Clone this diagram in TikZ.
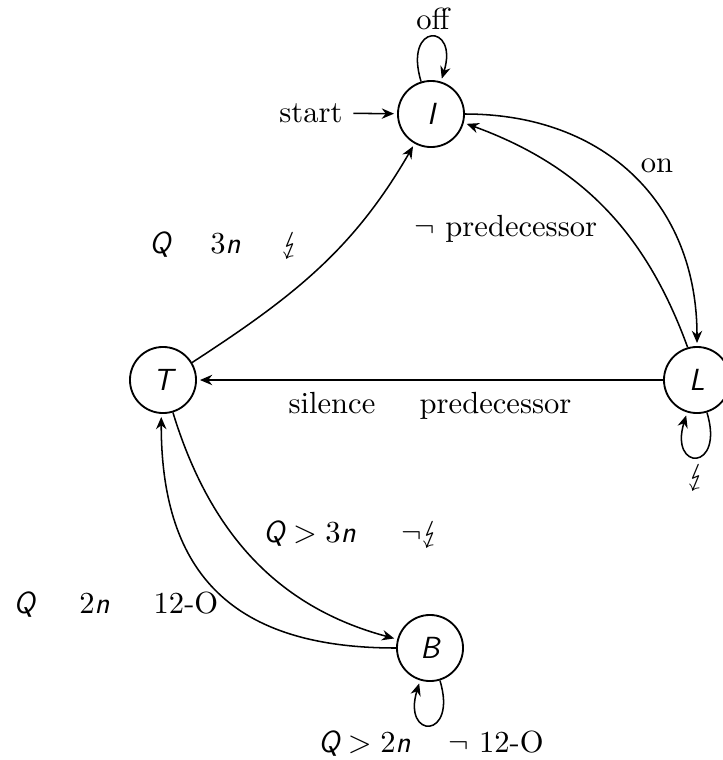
\documentclass[tikz,border=0pt]{standalone}
\usepackage{stmaryrd}
\usetikzlibrary{arrows.meta}
\font\lsansit="[lmsans17-oblique.otf]" at 10pt
\newcommand\sv[1]{{\lsansit #1}}
\begin{document}
\begin{tikzpicture}[x=0.327pt,y=-0.327pt,
  st/.style={circle,draw,line width=0.6pt,minimum size=21.6pt,inner sep=0pt,font=\lsansit},
  edge/.style={-{Stealth[length=4pt,width=3.4pt,inset=1.3pt]},line width=0.5pt,shorten >=1pt},
  lbl/.style={inner sep=0pt,anchor=base}]
\useasboundingbox (0,0) rectangle (723,760);
\node[st] (I) at (431,114) {I};
\node[st] (T) at (163,380) {T};
\node[st] (L) at (697,380) {L};
\node[st] (B) at (430,648) {B};
\node (start) at (311,113) {start};
% labels
\node[lbl] (loff) at (433,29) {off};
\node[lbl] (lon) at (657,172) {on};
\node[lbl] (lpred) at (506,236) {$\neg$ predecessor};
\node[lbl] (lti) at (225,253) {\sv{Q}\hspace{13pt}3\sv{n}\hspace{13.5pt}$\lightning$};
\node[lbl] (llt) at (430,413) {silence\hspace{14.5pt}predecessor};
\node[lbl] (ltb) at (352,542) {\sv{Q}${}>{}$3\sv{n}\hspace{15pt}$\neg\lightning$};
\node[lbl] (lbt) at (116,613) {\sv{Q}\hspace{14.5pt}2\sv{n}\hspace{14.5pt}12-O};
\node[lbl] (lbb) at (431,752) {\sv{Q}${}>{}$2\sv{n}\hspace{12.5pt}$\neg$ 12-O};
\node[inner sep=0pt] (lll) at (697,478) {$\lightning$};
% edges
\draw[edge] (start) -- (I);
\draw[edge] (I.107) to[out=107,in=73,looseness=8] (I.73);
\draw[edge] (L.-73) to[out=-73,in=-107,looseness=8] (L.-107);
\draw[edge] (B.-73) to[out=-73,in=-107,looseness=8] (B.-107);
\draw[edge] (I.0) to[out=0,in=90,looseness=1.1] (L.90);
\draw[edge] (L.106) to[out=110,in=-20] (I.-15);
\draw[edge] (L) -- (T);
\draw[edge] (T.31) to[out=33,in=240] (I.241);
\draw[edge] (T.-73) to[out=-73,in=165] (B.165);
\draw[edge] (B.180) to[out=180,in=-90,looseness=1.25] (T.-93);
\end{tikzpicture}
\end{document}
